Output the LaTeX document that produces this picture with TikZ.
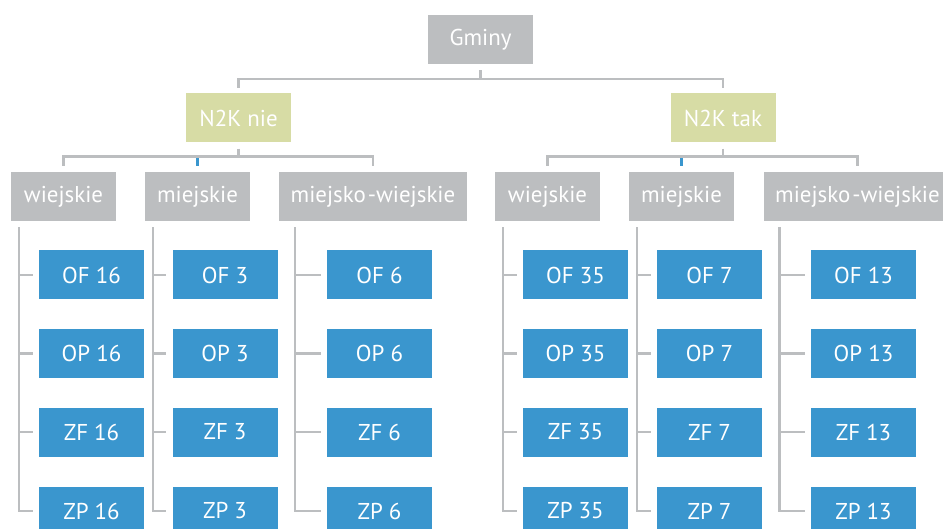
\documentclass[tikz,border=0pt]{standalone}
\usepackage{fontspec}
\setmainfont{PT Sans}
\definecolor{boxgray}{HTML}{BCBEC0}
\definecolor{boxgreen}{HTML}{D7DCA5}
\definecolor{boxblue}{HTML}{3A96CE}
\definecolor{linegray}{HTML}{BCBEC0}
\begin{document}
\begin{tikzpicture}[x=1bp,y=-1bp,
  base/.style={minimum height=49bp, inner sep=0pt, text=white, font=\fontsize{23}{27}\selectfont},
  graybox/.style={base, fill=boxgray, minimum width=105bp},
  widebox/.style={base, fill=boxgray, minimum width=188bp},
  greenbox/.style={base, fill=boxgreen, minimum width=105bp},
  leafbox/.style={base, fill=boxblue, minimum width=105bp},
  conn/.style={draw=linegray, line width=2.4bp},
  connblue/.style={draw=boxblue, line width=2.4bp}]
\useasboundingbox (0,0) rectangle (943,529);
\clip (0,0) rectangle (943,529);
\fill[white] (0,0) rectangle (943,529);
% top
\node[graybox] (g) at (480.5,39.5) {Gminy};
\node[greenbox] (n1) at (238.5,118) {N2K nie};
\node[greenbox] (n2) at (723,118) {N2K tak};
% categories
\node[graybox] (c11) at (63.5,196.5) {wiejskie};
\node[graybox] (c12) at (197.5,196.5) {miejskie};
\node[widebox] (c13) at (373,196.5) {miejsko\kern2bp-wiejskie};
\node[graybox] (c21) at (547.5,196.5) {wiejskie};
\node[graybox] (c22) at (681.5,196.5) {miejskie};
\node[widebox] (c23) at (857.5,196.5) {miejsko\kern2bp-wiejskie};
% leaves
\foreach \g/\x/\n in {11/91.5/16, 12/225/3, 13/379.5/6, 21/575.5/35, 22/709.5/7, 23/863.5/13}{
  \node[leafbox] (l\g a) at (\x,275) {OF \n};
  \node[leafbox] (l\g b) at (\x,353.5) {OP \n};
  \node[leafbox] (l\g c) at (\x,432) {ZF \n};
  \node[leafbox] (l\g d) at (\x,511) {ZP \n};
}
% connectors top
\draw[conn] ([yshift=-6bp]g.south) -- ([yshift=-15bp]g.south) -| ([yshift=5bp]n1.north);
\draw[conn] ([yshift=-15bp]g.south) -| ([yshift=5bp]n2.north);
% N2K to categories
\foreach \n/\a/\b/\c in {n1/c11/c12/c13, n2/c21/c22/c23}{
  \draw[conn] ([yshift=-6bp]\n.south) -- ([yshift=-14bp]\n.south) -| ([yshift=6bp]\a.north);
  \draw[conn] ([yshift=-14bp]\n.south) -| ([yshift=6bp]\c.north);
  \draw[connblue] ([yshift=6bp]\b.north) -- ([yshift=14bp]\b.north);
}
% category to leaves
\foreach \g/\off in {11/8, 12/8, 13/16, 21/8, 22/8, 23/16}{
  \coordinate (v\g) at ([xshift=\off bp,yshift=-6bp]c\g.south west);
  \draw[conn] (v\g) |- ([xshift=-6bp]l\g d.west);
  \draw[conn] (v\g |- l\g a.west) -- ([xshift=-6bp]l\g a.west);
  \draw[conn] (v\g |- l\g b.west) -- ([xshift=-6bp]l\g b.west);
  \draw[conn] (v\g |- l\g c.west) -- ([xshift=-6bp]l\g c.west);
}
\end{tikzpicture}
\end{document}
